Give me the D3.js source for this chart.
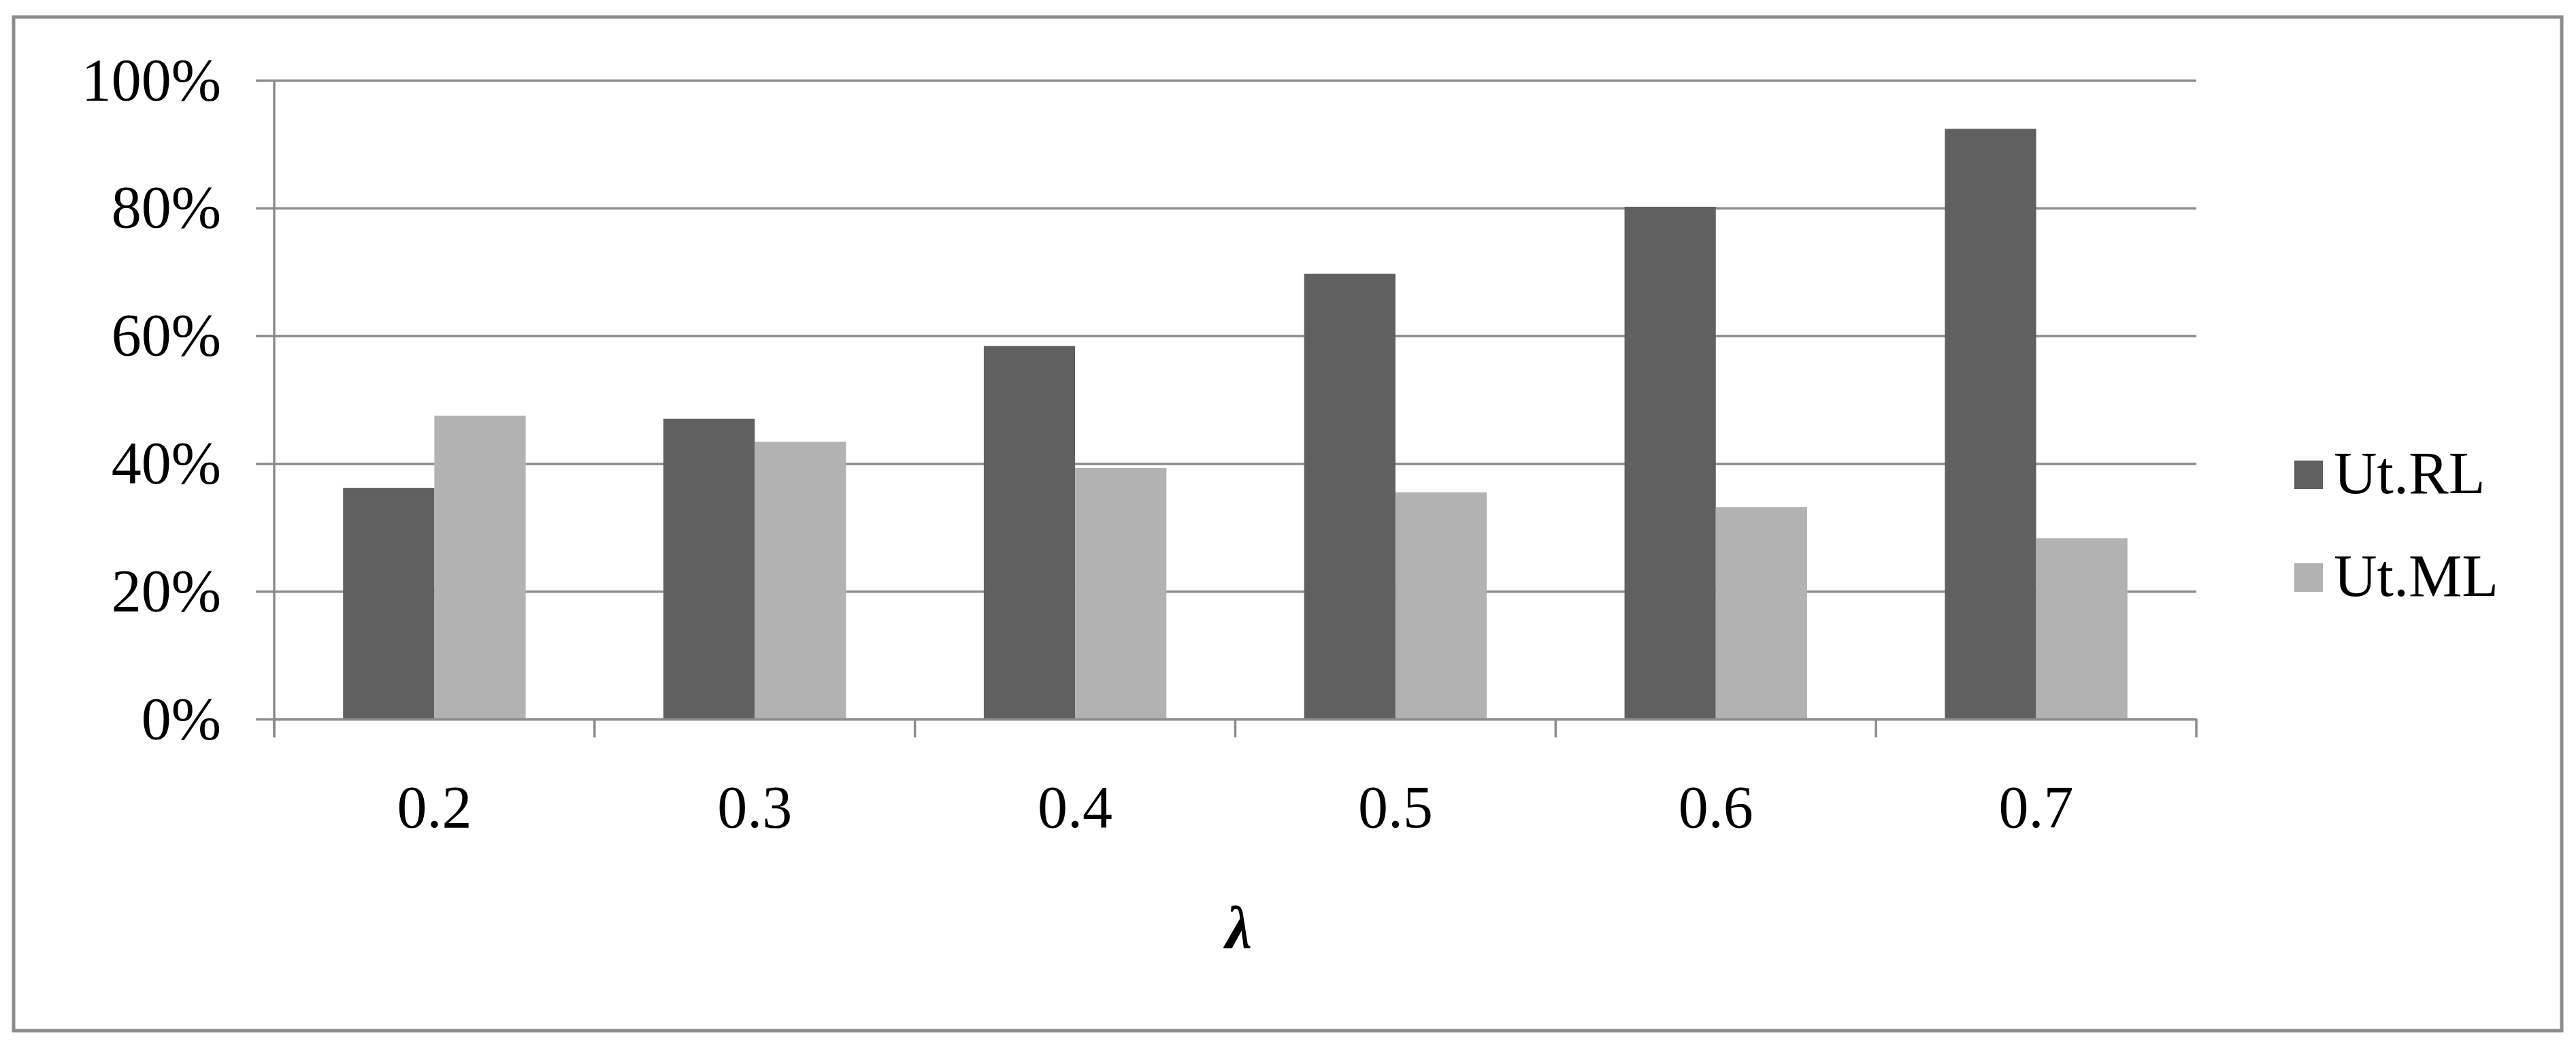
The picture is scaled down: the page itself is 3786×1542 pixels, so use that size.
<!DOCTYPE html>
<html>
<head>
<meta charset="utf-8">
<script src="https://cdn.jsdelivr.net/npm/d3@7"></script>
<style>
  html, body { margin: 0; padding: 0; background: #fff; }
  svg { display: block; }
  text { font-family: "Liberation Serif", "Times New Roman", serif; fill: #000; }
</style>
</head>
<body>
<svg id="chart" width="3786" height="1542"></svg>
<script>
const categories = ["0.2", "0.3", "0.4", "0.5", "0.6", "0.7"];
const seriesNames = ["Ut.RL", "Ut.ML"];
const utRL = [0.362, 0.470, 0.584, 0.697, 0.802, 0.924];
const utML = [0.475, 0.434, 0.393, 0.355, 0.332, 0.283];
const yTicks = [0, 0.2, 0.4, 0.6, 0.8, 1.0];
const colors = ["#606060", "#b2b2b2"];
const xTitle = "λ";

const svg = d3.select("#chart");
const W = 3786, H = 1542;
const plot = { left: 403, right: 3228, top: 118, bottom: 1057 };
const gridColor = "#8c8c8c";
const fontSize = 88;

svg.append("rect").attr("width", W).attr("height", H).attr("fill", "#fff");

// outer border
svg.append("rect")
  .attr("x", 20).attr("y", 25)
  .attr("width", 3765 - 20).attr("height", 1515 - 25)
  .attr("fill", "none").attr("stroke", gridColor).attr("stroke-width", 5);

const y = d3.scaleLinear().domain([0, 1]).range([plot.bottom, plot.top]);
const x0 = d3.scaleBand().domain(categories).range([plot.left, plot.right]).padding(0);
const bw = x0.bandwidth();
const x1 = d3.scaleBand().domain(seriesNames).range([bw * 0.215, bw * 0.785]).padding(0);

// y axis with gridlines
const tickOut = 27;
const yAxis = d3.axisLeft(y)
  .tickValues(yTicks)
  .tickFormat(d3.format(".0%"))
  .tickSize(-(plot.right - plot.left + tickOut))
  .tickPadding(51);
const gy = svg.append("g").attr("transform", `translate(${plot.left - tickOut},0)`).call(yAxis);
gy.select(".domain").remove();
gy.selectAll(".tick line").attr("stroke", gridColor).attr("stroke-width", 3.5);
gy.selectAll(".tick text")
  .attr("font-size", fontSize)
  .attr("font-family", "Liberation Serif, Times New Roman, serif")
  .attr("fill", "#000");

// bars
const data = categories.map((c, i) => ({ cat: c, values: [utRL[i], utML[i]] }));
const groups = svg.append("g").selectAll("g").data(data).join("g")
  .attr("transform", d => `translate(${x0(d.cat)},0)`);
groups.selectAll("rect")
  .data(d => d.values.map((v, j) => ({ name: seriesNames[j], v, j })))
  .join("rect")
  .attr("x", d => x1(d.name))
  .attr("width", x1.bandwidth())
  .attr("y", d => y(d.v))
  .attr("height", d => y(0) - y(d.v))
  .attr("fill", d => colors[d.j]);

// vertical axis line
svg.append("line")
  .attr("x1", plot.left).attr("x2", plot.left)
  .attr("y1", plot.top).attr("y2", plot.bottom + tickOut)
  .attr("stroke", gridColor).attr("stroke-width", 3.5);

// x axis
const xAxis = d3.axisBottom(x0).tickSize(0).tickPadding(0);
const gx = svg.append("g").attr("transform", `translate(0,${plot.bottom})`).call(xAxis);
gx.select(".domain").attr("stroke", gridColor).attr("stroke-width", 3.5);
gx.selectAll(".tick text")
  .attr("y", 159).attr("dy", 0)
  .attr("font-size", fontSize)
  .attr("font-family", "Liberation Serif, Times New Roman, serif")
  .attr("fill", "#000");

// category separator ticks
const boundaries = categories.map(c => x0(c)).concat([plot.right]);
svg.append("g").selectAll("line").data(boundaries).join("line")
  .attr("x1", d => d).attr("x2", d => d)
  .attr("y1", plot.bottom).attr("y2", plot.bottom + tickOut)
  .attr("stroke", gridColor).attr("stroke-width", 3.5);

// x title
svg.append("text")
  .attr("x", (plot.left + plot.right) / 2 + 5)
  .attr("y", 1393)
  .attr("text-anchor", "middle")
  .attr("font-size", fontSize)
  .attr("font-style", "italic")
  .attr("font-weight", "bold")
  .text(xTitle);

// legend
const legend = svg.append("g").selectAll("g").data(seriesNames).join("g")
  .attr("transform", (d, i) => `translate(3372,${677 + i * 151})`);
legend.append("rect")
  .attr("width", 42).attr("height", 42)
  .attr("fill", (d, i) => colors[i]);
legend.append("text")
  .attr("x", 58).attr("y", 48)
  .attr("font-size", fontSize)
  .text(d => d);
</script>
</body>
</html>
